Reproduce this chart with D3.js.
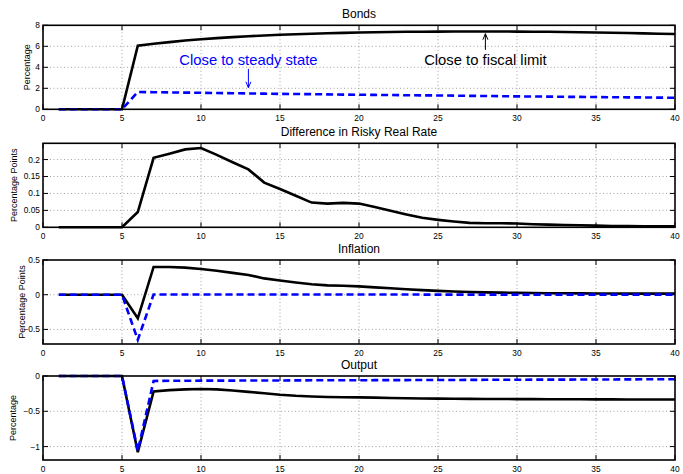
<!DOCTYPE html>
<html><head><meta charset="utf-8">
<script src="https://cdn.jsdelivr.net/npm/d3@7"></script>
<style>
html,body{margin:0;padding:0;background:#fff;}
svg{display:block;font-family:"Liberation Sans",Arial,Helvetica,sans-serif;}
</style></head>
<body><svg id="chart" width="683" height="474"></svg>
<script>
// ---- data ----
const periods = [1,2,3,4,5,6,7,8,9,10,11,12,13,14,15,16,17,18,19,20,21,22,23,24,25,26,27,28,29,30,31,32,33,34,35,36,37,38,39,40];
const xTicks = [0,5,10,15,20,25,30,35,40];

const bondsFiscal = [0,0,0,0,0,6.05,6.25,6.4,6.55,6.67,6.78,6.87,6.95,7.03,7.1,7.15,7.2,7.24,7.28,7.31,7.34,7.36,7.38,7.39,7.4,7.41,7.41,7.41,7.41,7.4,7.39,7.38,7.36,7.34,7.32,7.29,7.26,7.23,7.2,7.17];
const bondsSteady = [0,0,0,0,0,1.65,1.63,1.61,1.59,1.57,1.55,1.53,1.51,1.49,1.47,1.46,1.44,1.42,1.4,1.39,1.37,1.36,1.34,1.33,1.32,1.3,1.28,1.27,1.25,1.23,1.22,1.21,1.19,1.18,1.17,1.15,1.14,1.13,1.11,1.1];

const riskyFiscal = [0,0,0,0,0,0.045,0.205,0.217,0.23,0.234,0.214,0.192,0.171,0.132,0.113,0.093,0.073,0.07,0.072,0.07,0.06,0.049,0.038,0.028,0.022,0.017,0.013,0.012,0.012,0.011,0.009,0.008,0.007,0.006,0.005,0.004,0.004,0.003,0.003,0.003];

const inflFiscal = [0,0,0,0,0,-0.34,0.4,0.4,0.39,0.37,0.345,0.315,0.285,0.235,0.205,0.175,0.15,0.135,0.13,0.12,0.105,0.092,0.078,0.066,0.055,0.046,0.039,0.034,0.03,0.026,0.024,0.022,0.02,0.019,0.018,0.017,0.016,0.016,0.015,0.015];
const inflSteady = [0,0,0,0,0,-0.65,0.004,0.004,0.004,0.003,0.003,0.003,0.003,0.003,0.003,0.002,0.002,0.002,0.002,0.002,0.002,0.002,0.002,0.002,0.001,0.001,0.001,0.001,0.001,0.001,0.001,0.001,0.001,0.001,0.001,0.001,0.001,0.001,0.001,0.001];

const outFiscal = [0,0,0,0,0,-1.08,-0.22,-0.2,-0.19,-0.185,-0.19,-0.205,-0.225,-0.245,-0.265,-0.28,-0.29,-0.297,-0.3,-0.303,-0.307,-0.311,-0.315,-0.318,-0.32,-0.322,-0.324,-0.325,-0.326,-0.327,-0.328,-0.329,-0.33,-0.33,-0.331,-0.331,-0.332,-0.332,-0.333,-0.333];
const outSteady = [0,0,0,0,0,-1.06,-0.07,-0.068,-0.067,-0.066,-0.065,-0.065,-0.064,-0.063,-0.063,-0.062,-0.061,-0.061,-0.06,-0.06,-0.059,-0.058,-0.058,-0.057,-0.056,-0.056,-0.055,-0.054,-0.054,-0.053,-0.052,-0.052,-0.051,-0.05,-0.05,-0.049,-0.048,-0.047,-0.047,-0.046];

const titles = ["Bonds","Difference in Risky Real Rate","Inflation","Output"];
const yLabels = ["Percentage","Percentage Points","Percentage Points","Percentage"];
const yDomains = [[0,8],[0,0.248],[-0.71,0.5],[-1.19,0]];
const yTicks = [[0,2,4,6,8],[0,0.05,0.1,0.15,0.2],[-0.5,0,0.5],[-1,-0.5,0]];
const yTickLabels = [["0","2","4","6","8"],["0","0.05","0.1","0.15","0.2"],["\u22120.5","0","0.5"],["\u22121","\u22120.5","0"]];

// annotations (data coords, panel 0)
const annText = ["Close to steady state","Close to fiscal limit"];
const annX = [13,28];
const annTextY = [4.2,4.2];
const annArrowFrom = [3.85,5.65];
const annArrowTo = [2.05,7.2];
const annColor = ["#0000ff","#000000"];

// ---- layout ----
const svg = d3.select("#chart");
const left = 43, right = 675;
const tops = [25.3,143.3,260,376];
const ph = 84;
const yLabelBase = [29.5,16.5,24.5,16];
const x = d3.scaleLinear().domain([0,40]).range([left,right]);

const series = [
  [{v:bondsFiscal,c:"#000",d:null},{v:bondsSteady,c:"#0000ff",d:"7,4"}],
  [{v:riskyFiscal,c:"#000",d:null}],
  [{v:inflFiscal,c:"#000",d:null},{v:inflSteady,c:"#0000ff",d:"7,4"}],
  [{v:outFiscal,c:"#000",d:null},{v:outSteady,c:"#0000ff",d:"7,4"}]
];

const ys = [];
for (let i=0;i<4;i++){
  const top = tops[i], bot = top+ph;
  const y = d3.scaleLinear().domain(yDomains[i]).range([bot,top]);
  ys.push(y);
  const g = svg.append("g");

  // grid
  g.selectAll(".gx").data(xTicks.slice(1,-1)).enter().append("line")
    .attr("x1",d=>x(d)).attr("x2",d=>x(d)).attr("y1",top).attr("y2",bot)
    .attr("stroke","#8a8a8a").attr("stroke-width",0.8).attr("stroke-dasharray","1,2.5");
  g.selectAll(".gy").data(yTicks[i].filter(v=>Math.abs(y(v)-top)>1 && Math.abs(y(v)-bot)>1)).enter().append("line")
    .attr("x1",left).attr("x2",right).attr("y1",d=>y(d)).attr("y2",d=>y(d))
    .attr("stroke","#8a8a8a").attr("stroke-width",0.8).attr("stroke-dasharray","1,2.5");

  // ticks (inside, all sides)
  const tl = 5;
  xTicks.forEach(v=>{
    g.append("line").attr("x1",x(v)).attr("x2",x(v)).attr("y1",bot).attr("y2",bot-tl).attr("stroke","#000").attr("stroke-width",1);
    g.append("line").attr("x1",x(v)).attr("x2",x(v)).attr("y1",top).attr("y2",top+tl).attr("stroke","#000").attr("stroke-width",1);
  });
  yTicks[i].forEach(v=>{
    g.append("line").attr("x1",left).attr("x2",left+tl).attr("y1",y(v)).attr("y2",y(v)).attr("stroke","#000").attr("stroke-width",1);
    g.append("line").attr("x1",right).attr("x2",right-tl).attr("y1",y(v)).attr("y2",y(v)).attr("stroke","#000").attr("stroke-width",1);
  });

  // tick labels
  g.selectAll(".xl").data(xTicks).enter().append("text")
    .attr("x",d=>x(d)).attr("y",bot+11.5).attr("text-anchor","middle")
    .attr("font-size","8.4px").attr("fill","#000").text(d=>d);
  g.selectAll(".yl").data(yTicks[i]).enter().append("text")
    .attr("x",left-3).attr("y",d=>y(d)+3).attr("text-anchor","end")
    .attr("font-size","8.4px").attr("fill","#000").text((d,j)=>yTickLabels[i][j]);

  // title
  g.append("text").attr("x",(left+right)/2).attr("y",top-7).attr("text-anchor","middle")
    .attr("font-size","12px").attr("fill","#000").text(titles[i]);
  // y label
  g.append("text").attr("transform",`translate(${yLabelBase[i]},${top+ph/2}) rotate(-90)`)
    .attr("text-anchor","middle").attr("font-size","9px").attr("fill","#000").text(yLabels[i]);

  // lines
  series[i].forEach(s=>{
    const line = d3.line().x((d,j)=>x(periods[j])).y(d=>y(d));
    g.append("path").datum(s.v).attr("d",line).attr("fill","none")
      .attr("stroke",s.c).attr("stroke-width",2.6)
      .attr("stroke-dasharray",s.d).attr("stroke-linejoin","miter");
  });

  // box
  g.append("rect").attr("x",left).attr("y",top).attr("width",right-left).attr("height",ph)
    .attr("fill","none").attr("stroke","#000").attr("stroke-width",1.6);
}

// annotations on panel 0
const y0 = ys[0];
annText.forEach((t,k)=>{
  svg.append("text").attr("x",x(annX[k])).attr("y",y0(annTextY[k])).attr("text-anchor","middle")
    .attr("font-size","14.8px").attr("fill",annColor[k]).text(t);
  const xa = x(annX[k]), ya = y0(annArrowFrom[k]), yb = y0(annArrowTo[k]);
  svg.append("line").attr("x1",xa).attr("x2",xa).attr("y1",ya).attr("y2",yb)
    .attr("stroke",annColor[k]).attr("stroke-width",1);
  const dir = yb>ya ? -1 : 1;
  svg.append("path").attr("d",`M${xa-2.5},${yb+dir*6} L${xa},${yb} L${xa+2.5},${yb+dir*6}`)
    .attr("fill","none").attr("stroke",annColor[k]).attr("stroke-width",1);
});
</script></body></html>
